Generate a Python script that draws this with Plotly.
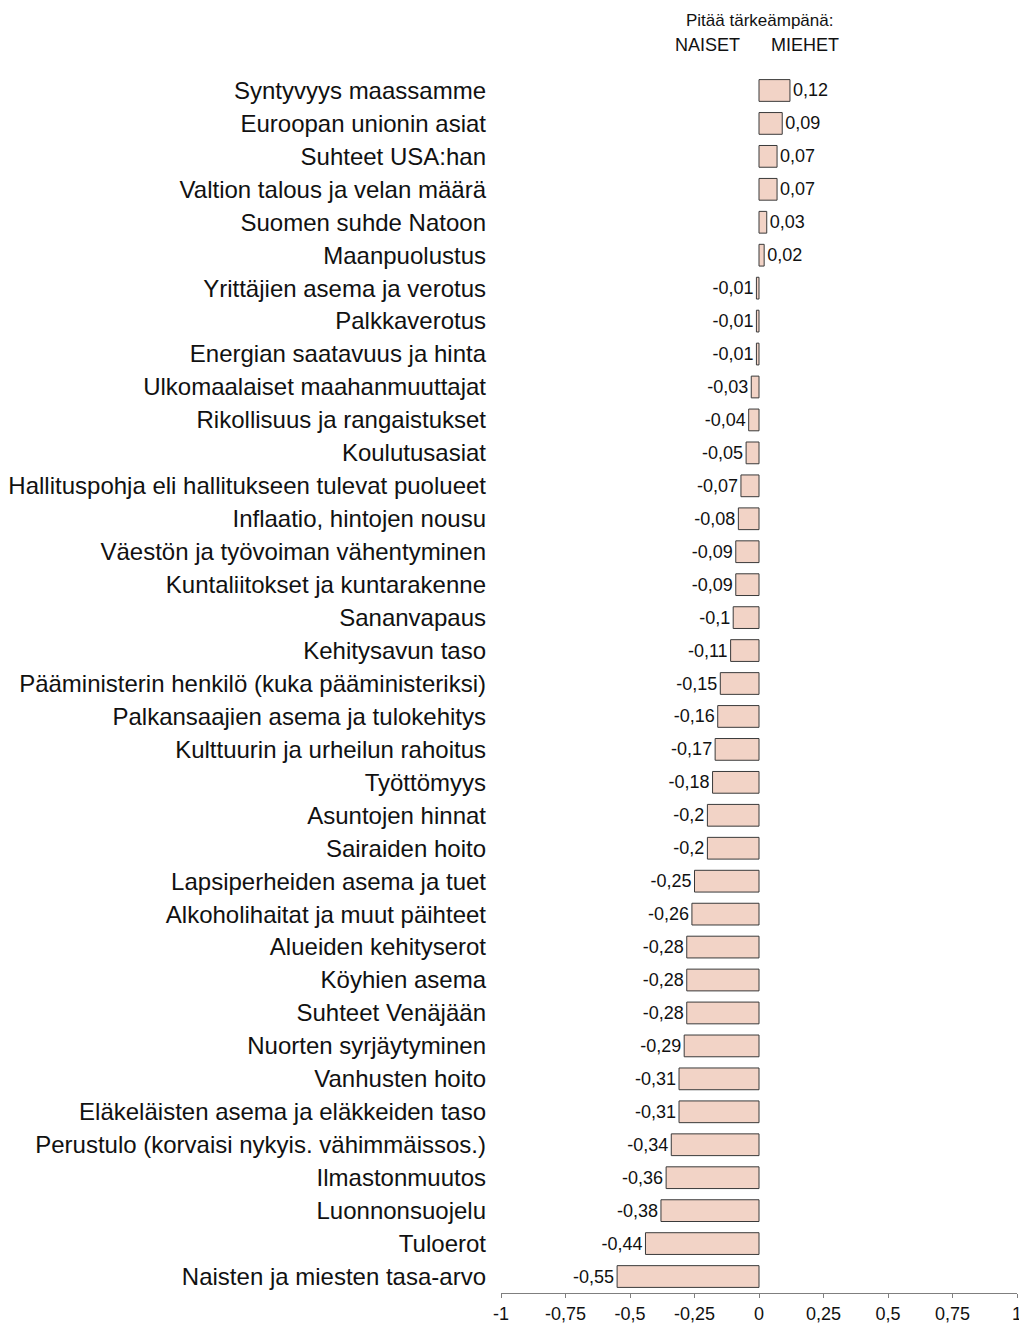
import plotly.graph_objects as go

# Aiheet (ylhäältä alas) ja ero: miehet - naiset
categories = [
    "Syntyvyys maassamme",
    "Euroopan unionin asiat",
    "Suhteet USA:han",
    "Valtion talous ja velan määrä",
    "Suomen suhde Natoon",
    "Maanpuolustus",
    "Yrittäjien asema ja verotus",
    "Palkkaverotus",
    "Energian saatavuus ja hinta",
    "Ulkomaalaiset maahanmuuttajat",
    "Rikollisuus ja rangaistukset",
    "Koulutusasiat",
    "Hallituspohja eli hallitukseen tulevat puolueet",
    "Inflaatio, hintojen nousu",
    "Väestön ja työvoiman vähentyminen",
    "Kuntaliitokset ja kuntarakenne",
    "Sananvapaus",
    "Kehitysavun taso",
    "Pääministerin henkilö (kuka pääministeriksi)",
    "Palkansaajien asema ja tulokehitys",
    "Kulttuurin ja urheilun rahoitus",
    "Työttömyys",
    "Asuntojen hinnat",
    "Sairaiden hoito",
    "Lapsiperheiden asema ja tuet",
    "Alkoholihaitat ja muut päihteet",
    "Alueiden kehityserot",
    "Köyhien asema",
    "Suhteet Venäjään",
    "Nuorten syrjäytyminen",
    "Vanhusten hoito",
    "Eläkeläisten asema ja eläkkeiden taso",
    "Perustulo (korvaisi nykyis. vähimmäissos.)",
    "Ilmastonmuutos",
    "Luonnonsuojelu",
    "Tuloerot",
    "Naisten ja miesten tasa-arvo",
]

values = [
    0.12, 0.09, 0.07, 0.07, 0.03, 0.02,
    -0.01, -0.01, -0.01, -0.03, -0.04, -0.05,
    -0.07, -0.08, -0.09, -0.09, -0.1, -0.11,
    -0.15, -0.16, -0.17, -0.18, -0.2, -0.2,
    -0.25, -0.26, -0.28, -0.28, -0.28, -0.29,
    -0.31, -0.31, -0.34, -0.36, -0.38, -0.44, -0.55,
]

tick_vals = [-1, -0.75, -0.5, -0.25, 0, 0.25, 0.5, 0.75, 1]
tick_text = ["-1", "-0,75", "-0,5", "-0,25", "0", "0,25", "0,5", "0,75", "1"]

FONT = "Liberation Sans, Arial, sans-serif"

# suomalainen desimaalipilkku
labels = [f"{v:g}".replace(".", ",") for v in values]

fig = go.Figure(go.Bar(
    x=values,
    y=categories,
    orientation="h",
    marker=dict(color="#F2D3C6", line=dict(color="#3a3a3a", width=1)),
    text=labels,
    textposition="outside",
    textfont=dict(family=FONT, size=18, color="#111111"),
    cliponaxis=False,
))

# sivun body-marginaali (8 px) vähennetty koosta ja marginaaleista
fig.update_layout(
    width=1019,
    height=1316,
    margin=dict(l=493, r=10, t=66, b=31),
    paper_bgcolor="white",
    plot_bgcolor="white",
    showlegend=False,
    bargap=0.34,
    font=dict(family=FONT, color="#111111"),
    xaxis=dict(
        range=[-1, 1],
        tickvals=tick_vals,
        ticktext=tick_text,
        showgrid=False,
        zeroline=False,
        showline=True,
        linecolor="#7f7f7f",
        linewidth=1,
        ticks="outside",
        ticklen=4,
        tickcolor="#7f7f7f",
        tickfont=dict(family=FONT, size=18, color="#111111"),
        automargin=False,
    ),
    yaxis=dict(
        categoryorder="array",
        categoryarray=categories,
        autorange="reversed",
        showgrid=False,
        zeroline=False,
        showline=False,
        ticks="",
        ticklabelstandoff=14,
        tickfont=dict(family=FONT, size=24, color="#111111"),
        automargin=False,
    ),
    annotations=[
        dict(text="Pitää tärkeämpänä:", x=0, y=1, xref="x", yref="paper",
             xanchor="center", yanchor="middle", yshift=54, showarrow=False,
             font=dict(family=FONT, size=17, color="#111111")),
        dict(text="NAISET", x=-0.2, y=1, xref="x", yref="paper",
             xanchor="center", yanchor="middle", yshift=29, showarrow=False,
             font=dict(family=FONT, size=18, color="#111111")),
        dict(text="MIEHET", x=0.18, y=1, xref="x", yref="paper",
             xanchor="center", yanchor="middle", yshift=29, showarrow=False,
             font=dict(family=FONT, size=18, color="#111111")),
    ],
)

fig.write_html("out.html")
